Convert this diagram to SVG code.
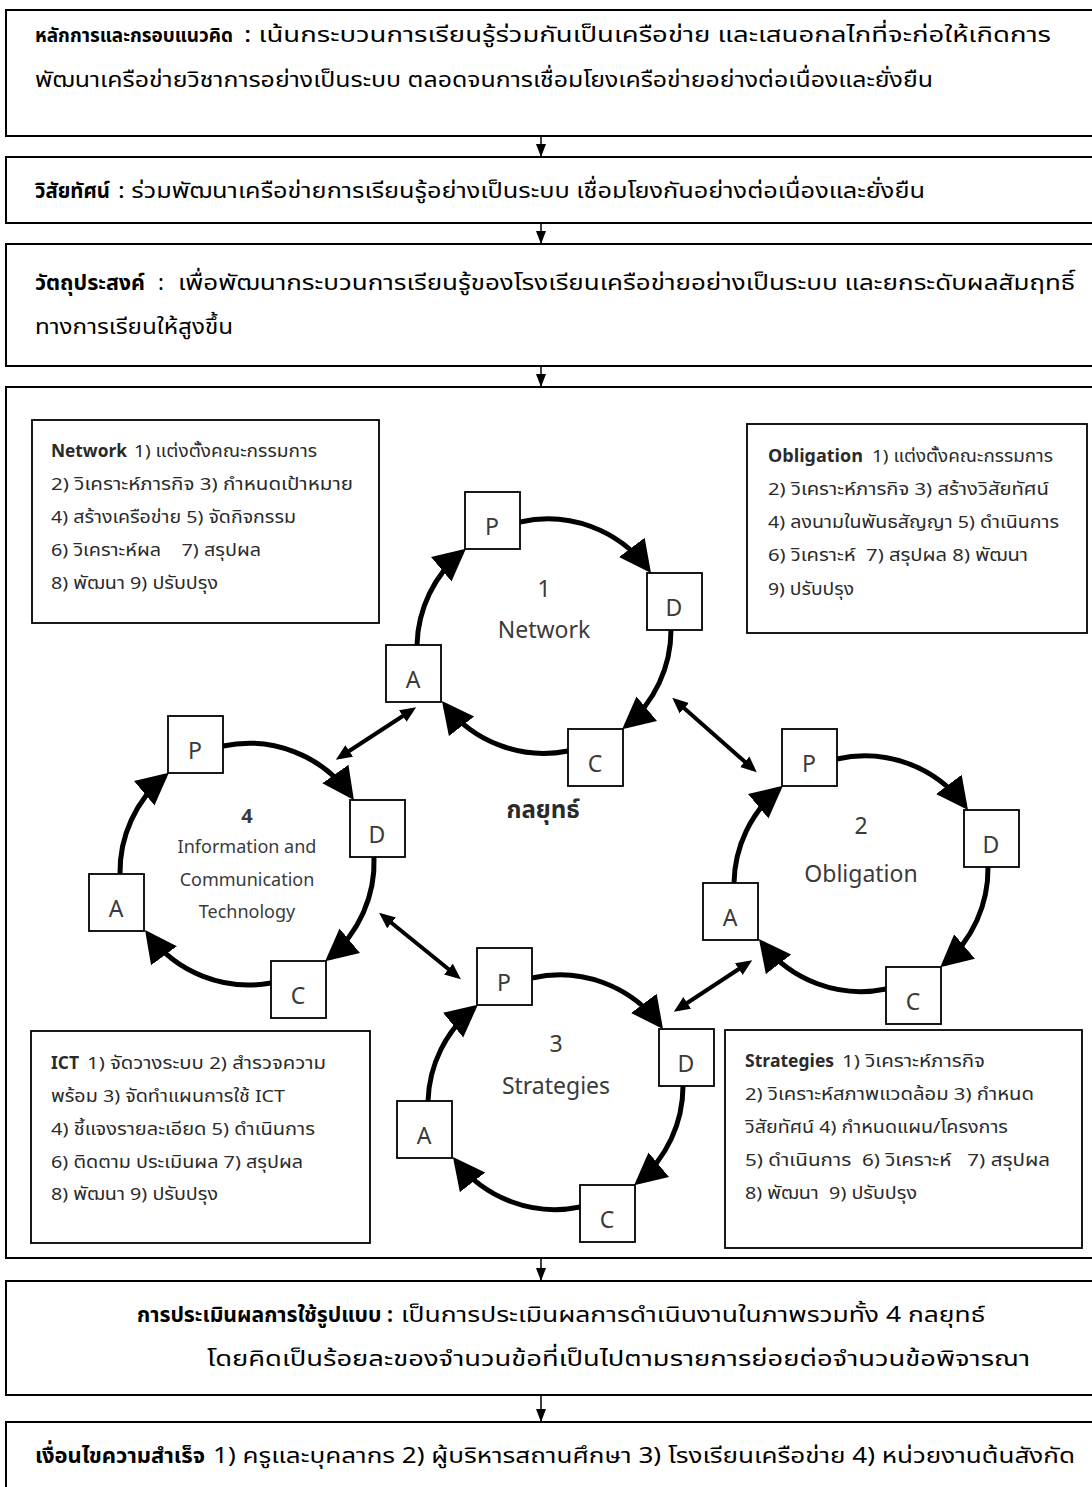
<svg xmlns="http://www.w3.org/2000/svg" width="1092" height="1487" viewBox="0 0 1092 1487">
<style>
text{font-family:"Noto Sans Thai","Noto Sans Thai UI","Leelawadee UI",Tahoma,Loma,Garuda,"Noto Sans","DejaVu Sans",sans-serif;white-space:pre}
.box{fill:#fff;stroke:#000;stroke-width:2}
.ibox{fill:#fff;stroke:#000;stroke-width:1.8}
.main{font-size:22px;fill:#000}
.mb{font-size:22px;font-weight:bold;fill:#000}
.small{font-size:17px;fill:#2a2a2a}
.sb{font-size:17px;font-weight:bold;fill:#2a2a2a}
.lbl{font-size:23px;fill:#3a3a3a;text-anchor:middle}
.ict{font-size:18px;fill:#3a3a3a;text-anchor:middle}
.key{font-size:24px;font-weight:bold;fill:#2a2a2a;text-anchor:middle}
.arc{fill:none;stroke:#000;stroke-width:5;marker-end:url(#big)}
.dbl{stroke:#000;stroke-width:4;marker-start:url(#sm);marker-end:url(#sm)}
.vl{stroke:#000;stroke-width:1.5;marker-end:url(#tri)}
</style>
<defs>
<marker id="big" markerUnits="userSpaceOnUse" markerWidth="34" markerHeight="34" viewBox="0 0 34 34" refX="27" refY="17" orient="auto"><path d="M0,1 L32,17 L0,33 z" fill="#000"/></marker>
<marker id="sm" markerUnits="userSpaceOnUse" markerWidth="16" markerHeight="16" viewBox="0 0 16 16" refX="11" refY="8" orient="auto-start-reverse"><path d="M0,1 L16,8 L0,15 z" fill="#000"/></marker>
<marker id="tri" markerUnits="userSpaceOnUse" markerWidth="14" markerHeight="12" viewBox="0 0 14 12" refX="13" refY="6" orient="auto"><path d="M0,1 L13,6 L0,11 z" fill="#000"/></marker>
<g id="pdbox"><rect class="ibox" x="0" y="0" width="55" height="57"/></g>
</defs>
<rect width="1092" height="1487" fill="#fff"/>

<g id="principle">
<rect class="box" x="6" y="10" width="1100" height="126"/>
<text class="mb" x="35" y="42" style="font-size:19px" textLength="198" lengthAdjust="spacingAndGlyphs">หลักการและกรอบแนวคิด</text>
<text class="main" x="244" y="42" textLength="807" lengthAdjust="spacingAndGlyphs">: เน้นกระบวนการเรียนรู้ร่วมกันเป็นเครือข่าย และเสนอกลไกที่จะก่อให้เกิดการ</text>
<text class="main" x="35" y="87" textLength="898" lengthAdjust="spacingAndGlyphs">พัฒนาเครือข่ายวิชาการอย่างเป็นระบบ ตลอดจนการเชื่อมโยงเครือข่ายอย่างต่อเนื่องและยั่งยืน</text>
</g>
<g id="vision">
<rect class="box" x="6" y="157" width="1100" height="66"/>
<text class="mb" x="35" y="198" textLength="75" lengthAdjust="spacingAndGlyphs">วิสัยทัศน์</text>
<text class="main" x="118" y="198" textLength="807" lengthAdjust="spacingAndGlyphs">: ร่วมพัฒนาเครือข่ายการเรียนรู้อย่างเป็นระบบ เชื่อมโยงกันอย่างต่อเนื่องและยั่งยืน</text>
</g>
<g id="objective">
<rect class="box" x="6" y="244" width="1100" height="122"/>
<text class="mb" x="35" y="290" textLength="110" lengthAdjust="spacingAndGlyphs">วัตถุประสงค์</text>
<text class="main" x="158" y="290">:</text>
<text class="main" x="178" y="290" textLength="897" lengthAdjust="spacingAndGlyphs">เพื่อพัฒนากระบวนการเรียนรู้ของโรงเรียนเครือข่ายอย่างเป็นระบบ และยกระดับผลสัมฤทธิ์</text>
<text class="main" x="35" y="334" textLength="198" lengthAdjust="spacingAndGlyphs">ทางการเรียนให้สูงขึ้น</text>
</g>
<g id="strategy-frame">
<rect class="box" x="6" y="387" width="1100" height="871"/>
<text class="key" x="543" y="818">กลยุทธ์</text>
</g>

<g id="network-detail">
<rect class="ibox" x="32" y="420" width="347" height="203"/>
<text class="sb" x="51" y="457" textLength="76" lengthAdjust="spacingAndGlyphs">Network</text>
<text class="small" x="134" y="457" textLength="183" lengthAdjust="spacingAndGlyphs">1) แต่งตั้งคณะกรรมการ</text>
<text class="small" x="51" y="490" textLength="302" lengthAdjust="spacingAndGlyphs">2) วิเคราะห์ภารกิจ 3) กำหนดเป้าหมาย</text>
<text class="small" x="51" y="523" textLength="245" lengthAdjust="spacingAndGlyphs">4) สร้างเครือข่าย 5) จัดกิจกรรม</text>
<text class="small" x="51" y="556" textLength="210" lengthAdjust="spacingAndGlyphs">6) วิเคราะห์ผล    7) สรุปผล</text>
<text class="small" x="51" y="589" textLength="167" lengthAdjust="spacingAndGlyphs">8) พัฒนา 9) ปรับปรุง</text>
</g>
<g id="obligation-detail">
<rect class="ibox" x="747" y="424" width="340" height="209"/>
<text class="sb" x="768" y="462" textLength="95" lengthAdjust="spacingAndGlyphs">Obligation</text>
<text class="small" x="872" y="462" textLength="181" lengthAdjust="spacingAndGlyphs">1) แต่งตั้งคณะกรรมการ</text>
<text class="small" x="768" y="495" textLength="281" lengthAdjust="spacingAndGlyphs">2) วิเคราะห์ภารกิจ 3) สร้างวิสัยทัศน์</text>
<text class="small" x="768" y="528" textLength="291" lengthAdjust="spacingAndGlyphs">4) ลงนามในพันธสัญญา 5) ดำเนินการ</text>
<text class="small" x="768" y="561" textLength="260" lengthAdjust="spacingAndGlyphs">6) วิเคราะห์  7) สรุปผล 8) พัฒนา</text>
<text class="small" x="768" y="595" textLength="86" lengthAdjust="spacingAndGlyphs">9) ปรับปรุง</text>
</g>
<g id="ict-detail">
<rect class="ibox" x="31" y="1031" width="339" height="212"/>
<text class="sb" x="51" y="1069" textLength="28" lengthAdjust="spacingAndGlyphs">ICT</text>
<text class="small" x="87" y="1069" textLength="239" lengthAdjust="spacingAndGlyphs">1) จัดวางระบบ 2) สำรวจความ</text>
<text class="small" x="51" y="1102" textLength="234" lengthAdjust="spacingAndGlyphs">พร้อม 3) จัดทำแผนการใช้ ICT</text>
<text class="small" x="51" y="1135" textLength="264" lengthAdjust="spacingAndGlyphs">4) ชี้แจงรายละเอียด 5) ดำเนินการ</text>
<text class="small" x="51" y="1168" textLength="252" lengthAdjust="spacingAndGlyphs">6) ติดตาม ประเมินผล 7) สรุปผล</text>
<text class="small" x="51" y="1200" textLength="167" lengthAdjust="spacingAndGlyphs">8) พัฒนา 9) ปรับปรุง</text>
</g>
<g id="strategies-detail">
<rect class="ibox" x="725" y="1030" width="357" height="218"/>
<text class="sb" x="745" y="1067" textLength="89" lengthAdjust="spacingAndGlyphs">Strategies</text>
<text class="small" x="842" y="1067" textLength="143" lengthAdjust="spacingAndGlyphs">1) วิเคราะห์ภารกิจ</text>
<text class="small" x="745" y="1100" textLength="289" lengthAdjust="spacingAndGlyphs">2) วิเคราะห์สภาพแวดล้อม 3) กำหนด</text>
<text class="small" x="745" y="1133" textLength="263" lengthAdjust="spacingAndGlyphs">วิสัยทัศน์ 4) กำหนดแผน/โครงการ</text>
<text class="small" x="745" y="1166" textLength="305" lengthAdjust="spacingAndGlyphs">5) ดำเนินการ  6) วิเคราะห์   7) สรุปผล</text>
<text class="small" x="745" y="1199" textLength="172" lengthAdjust="spacingAndGlyphs">8) พัฒนา  9) ปรับปรุง</text>
</g>

<g id="cycle1">
<text class="lbl" x="544" y="597">1</text>
<text class="lbl" x="544" y="638">Network</text>
<g id="c1-P"><use href="#pdbox" x="465" y="492"/><text class="lbl" x="492" y="535">P</text></g>
<g id="c1-D"><use href="#pdbox" x="647" y="573"/><text class="lbl" x="674" y="616">D</text></g>
<g id="c1-A"><use href="#pdbox" x="386" y="645"/><text class="lbl" x="413" y="688">A</text></g>
<g id="c1-C"><use href="#pdbox" x="568" y="729"/><text class="lbl" x="595" y="772">C</text></g>
</g>
<g id="cycle2">
<text class="lbl" x="861" y="834">2</text>
<text class="lbl" x="861" y="882">Obligation</text>
<g id="c2-P"><use href="#pdbox" x="782" y="729"/><text class="lbl" x="809" y="772">P</text></g>
<g id="c2-D"><use href="#pdbox" x="964" y="810"/><text class="lbl" x="991" y="853">D</text></g>
<g id="c2-A"><use href="#pdbox" x="703" y="883"/><text class="lbl" x="730" y="926">A</text></g>
<g id="c2-C"><use href="#pdbox" x="886" y="967"/><text class="lbl" x="913" y="1010">C</text></g>
</g>
<g id="cycle3">
<text class="lbl" x="556" y="1052">3</text>
<text class="lbl" x="556" y="1094">Strategies</text>
<g id="c3-P"><use href="#pdbox" x="477" y="948"/><text class="lbl" x="504" y="991">P</text></g>
<g id="c3-D"><use href="#pdbox" x="659" y="1029"/><text class="lbl" x="686" y="1072">D</text></g>
<g id="c3-A"><use href="#pdbox" x="397" y="1101"/><text class="lbl" x="424" y="1144">A</text></g>
<g id="c3-C"><use href="#pdbox" x="580" y="1185"/><text class="lbl" x="607" y="1228">C</text></g>
</g>
<g id="cycle4">
<text class="lbl" x="247" y="823" style="font-size:20px;font-weight:bold">4</text>
<text class="ict" x="247" y="853">Information and</text>
<text class="ict" x="247" y="886">Communication</text>
<text class="ict" x="247" y="918">Technology</text>
<g id="c4-P"><use href="#pdbox" x="168" y="716"/><text class="lbl" x="195" y="759">P</text></g>
<g id="c4-D"><use href="#pdbox" x="350" y="800"/><text class="lbl" x="377" y="843">D</text></g>
<g id="c4-A"><use href="#pdbox" x="89" y="874"/><text class="lbl" x="116" y="917">A</text></g>
<g id="c4-C"><use href="#pdbox" x="271" y="961"/><text class="lbl" x="298" y="1004">C</text></g>
</g>

<g id="evaluation">
<rect class="box" x="6" y="1281" width="1100" height="114"/>
<text class="mb" x="137" y="1322" textLength="256" lengthAdjust="spacingAndGlyphs">การประเมินผลการใช้รูปแบบ :</text>
<text class="main" x="401" y="1322" textLength="584" lengthAdjust="spacingAndGlyphs">เป็นการประเมินผลการดำเนินงานในภาพรวมทั้ง 4 กลยุทธ์</text>
<text class="main" x="207" y="1366" textLength="823" lengthAdjust="spacingAndGlyphs">โดยคิดเป็นร้อยละของจำนวนข้อที่เป็นไปตามรายการย่อยต่อจำนวนข้อพิจารณา</text>
</g>
<g id="success">
<rect class="box" x="6" y="1422" width="1100" height="80"/>
<text class="mb" x="35" y="1463" textLength="170" lengthAdjust="spacingAndGlyphs">เงื่อนไขความสำเร็จ</text>
<text class="main" x="213" y="1463" textLength="862" lengthAdjust="spacingAndGlyphs">1) ครูและบุคลากร 2) ผู้บริหารสถานศึกษา 3) โรงเรียนเครือข่าย 4) หน่วยงานต้นสังกัด</text>
</g>

<g id="connectors">
<line class="vl" x1="541" y1="136" x2="541" y2="157"/>
<line class="vl" x1="541" y1="223" x2="541" y2="244"/>
<line class="vl" x1="541" y1="366" x2="541" y2="387"/>
<line class="vl" x1="541" y1="1258" x2="541" y2="1281"/>
<line class="vl" x1="541" y1="1395" x2="541" y2="1422"/>

<path class="arc" d="M520,522 A125,125 0 0 1 648,569"/>
<path class="arc" d="M671,630 A125,125 0 0 1 626,726"/>
<path class="arc" d="M568,751 A125,125 0 0 1 445,705"/>
<path class="arc" d="M417,645 A125,125 0 0 1 462,552"/>

<path class="arc" d="M837,759 A125,125 0 0 1 965,806"/>
<path class="arc" d="M988,867 A125,125 0 0 1 944,964"/>
<path class="arc" d="M886,989 A125,125 0 0 1 762,943"/>
<path class="arc" d="M734,883 A125,125 0 0 1 779,789"/>

<path class="arc" d="M532,978 A125,125 0 0 1 660,1025"/>
<path class="arc" d="M683,1086 A125,125 0 0 1 638,1182"/>
<path class="arc" d="M580,1207 A125,125 0 0 1 456,1161"/>
<path class="arc" d="M428,1101 A125,125 0 0 1 474,1008"/>

<path class="arc" d="M223,746 A125,125 0 0 1 351,796"/>
<path class="arc" d="M374,857 A125,125 0 0 1 329,958"/>
<path class="arc" d="M271,983 A125,125 0 0 1 148,934"/>
<path class="arc" d="M120,874 A125,125 0 0 1 165,776"/>

<line class="dbl" x1="340" y1="757" x2="412" y2="710"/>
<line class="dbl" x1="676" y1="701" x2="753" y2="769"/>
<line class="dbl" x1="383" y1="916" x2="457" y2="976"/>
<line class="dbl" x1="678" y1="1009" x2="748" y2="963"/>
</g>
</svg>
